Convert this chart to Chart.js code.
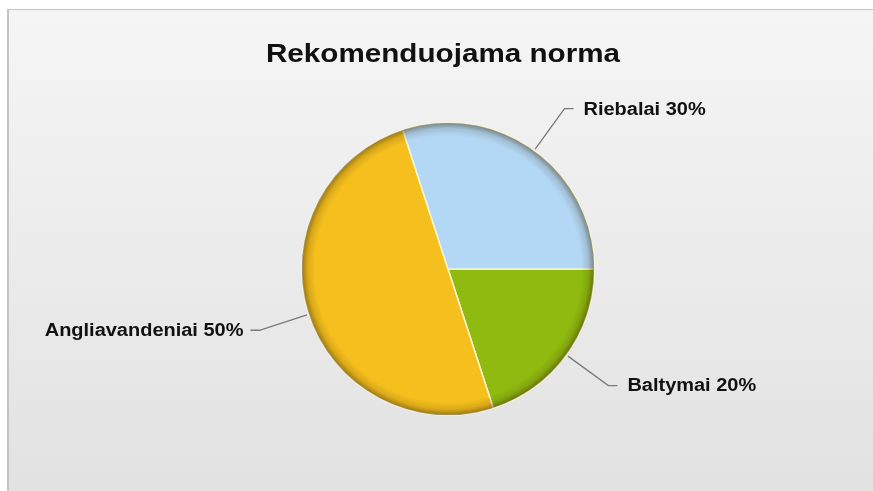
<!DOCTYPE html>
<html lang="lt">
<head>
<meta charset="utf-8">
<title>Rekomenduojama norma</title>
<script src="https://cdn.jsdelivr.net/npm/chart.js@4.4.1/dist/chart.umd.min.js"></script>
<style>
  html, body { margin: 0; padding: 0; background: #fff; }
  #wrap { width: 873px; height: 491px; position: relative; }
</style>
</head>
<body>
<div id="wrap"><canvas id="normChart" width="873" height="491"></canvas></div>
<script>
// Data, drawn clockwise from 3 o'clock
const categories = ["Baltymai", "Angliavandeniai", "Riebalai"];
const shares = [20, 50, 30];
const sliceColors = ["#8fbb10", "#f5bf1d", "#b3d8f6"];
const chartTitle = "Rekomenduojama norma";

const FONT = "'Liberation Sans', Arial, sans-serif";

// draws text slightly stretched sideways (wide look of the labels)
function wideText(ctx, text, x, y, align, stretch) {
  ctx.save();
  ctx.translate(x, y);
  ctx.scale(stretch, 1);
  ctx.textAlign = align;
  ctx.fillText(text, 0, 0);
  ctx.restore();
}

// frame + soft gray gradient behind everything, and the title
const backdrop = {
  id: "backdrop",
  beforeDraw(chart) {
    const ctx = chart.ctx;
    const w = chart.width, h = chart.height;
    ctx.save();
    ctx.fillStyle = "#ffffff";
    ctx.fillRect(0, 0, w, h);
    const g = ctx.createLinearGradient(0, 10, 0, h);
    g.addColorStop(0, "#f5f5f5");
    g.addColorStop(1, "#e2e2e2");
    ctx.fillStyle = g;
    ctx.fillRect(9, 10, w - 9, h - 10);
    ctx.fillStyle = "#c4c4c4";
    ctx.fillRect(7, 9, w - 7, 1);
    ctx.fillRect(7, 9, 2, h - 9);

    ctx.fillStyle = "#111";
    ctx.font = "bold 26px " + FONT;
    ctx.textBaseline = "alphabetic";
    wideText(ctx, chartTitle, 443, 62, "center", 1.14);
    ctx.restore();
  }
};

// darker rim around the pie so it looks bevelled
const rimShade = {
  id: "rimShade",
  afterDatasetsDraw(chart) {
    const arc = chart.getDatasetMeta(0).data[0];
    if (!arc) return;
    const { x, y, outerRadius } = arc.getProps(["x", "y", "outerRadius"], true);
    const ctx = chart.ctx;
    ctx.save();
    ctx.beginPath();
    ctx.arc(x, y, outerRadius, 0, Math.PI * 2);
    ctx.clip();
    const g = ctx.createRadialGradient(x, y, outerRadius - 13, x, y, outerRadius);
    g.addColorStop(0, "rgba(60,40,0,0)");
    g.addColorStop(0.55, "rgba(60,40,0,0.14)");
    g.addColorStop(1, "rgba(40,30,0,0.45)");
    ctx.fillStyle = g;
    ctx.fillRect(x - outerRadius, y - outerRadius, outerRadius * 2, outerRadius * 2);
    ctx.restore();
  }
};

// outside labels with leader lines
const leaderLabels = {
  id: "leaderLabels",
  afterDraw(chart) {
    const ctx = chart.ctx;
    const meta = chart.getDatasetMeta(0);
    ctx.save();
    ctx.font = "bold 18px " + FONT;
    ctx.textBaseline = "middle";
    meta.data.forEach((arc, i) => {
      const p = arc.getProps(["x", "y", "startAngle", "endAngle", "outerRadius"], true);
      const mid = (p.startAngle + p.endAngle) / 2;
      const cos = Math.cos(mid), sin = Math.sin(mid);
      const x0 = p.x + cos * (p.outerRadius + 2);
      const y0 = p.y + sin * (p.outerRadius + 2);
      const x1 = p.x + cos * (p.outerRadius + 52);
      const y1 = p.y + sin * (p.outerRadius + 52);
      const right = cos >= 0;
      const x2 = x1 + (right ? 9 : -9);
      ctx.strokeStyle = "#7a7a7a";
      ctx.lineWidth = 1.3;
      ctx.beginPath();
      ctx.moveTo(x0, y0);
      ctx.lineTo(x1, y1);
      ctx.lineTo(x2, y1);
      ctx.stroke();
      ctx.fillStyle = "#111";
      const text = categories[i] + " " + shares[i] + "%";
      wideText(ctx, text, x2 + (right ? 10 : -7), y1 + 1, right ? "left" : "right", 1.11);
    });
    ctx.restore();
  }
};

new Chart(document.getElementById("normChart"), {
  type: "pie",
  data: {
    labels: categories,
    datasets: [{
      data: shares,
      backgroundColor: sliceColors,
      borderColor: "#fbf5d2",
      borderWidth: 1.5
    }]
  },
  options: {
    responsive: false,
    animation: false,
    rotation: 90,
    layout: { padding: { left: 150, right: 127, top: 122, bottom: 75 } },
    plugins: {
      legend: { display: false },
      tooltip: { enabled: false },
      title: { display: false }
    }
  },
  plugins: [backdrop, rimShade, leaderLabels]
});
</script>
</body>
</html>
